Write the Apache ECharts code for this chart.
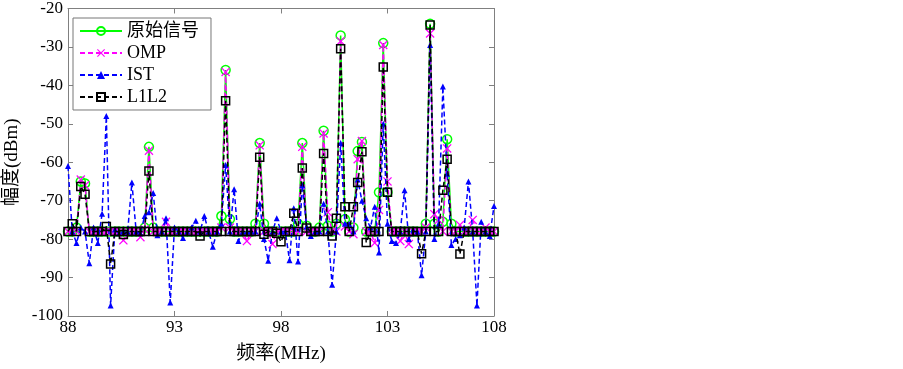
<!DOCTYPE html>
<html>
<head>
<meta charset="utf-8">
<script src="https://cdn.jsdelivr.net/npm/echarts@6/dist/echarts.min.js"></script>
<style>
  html, body { margin: 0; padding: 0; background: #fff; }
  #chart { width: 903px; height: 369px; }
</style>
</head>
<body>
<div id="chart"></div>
<script>
// 频率 (MHz), 步长 0.2
var freq = [88.0,88.2,88.4,88.6,88.8,89.0,89.2,89.4,89.6,89.8,90.0,90.2,90.4,90.6,90.8,91.0,91.2,91.4,91.6,91.8,
  92.0,92.2,92.4,92.6,92.8,93.0,93.2,93.4,93.6,93.8,94.0,94.2,94.4,94.6,94.8,95.0,95.2,95.4,95.6,95.8,
  96.0,96.2,96.4,96.6,96.8,97.0,97.2,97.4,97.6,97.8,98.0,98.2,98.4,98.6,98.8,99.0,99.2,99.4,99.6,99.8,
  100.0,100.2,100.4,100.6,100.8,101.0,101.2,101.4,101.6,101.8,102.0,102.2,102.4,102.6,102.8,103.0,103.2,103.4,103.6,103.8,
  104.0,104.2,104.4,104.6,104.8,105.0,105.2,105.4,105.6,105.8,106.0,106.2,106.4,106.6,106.8,107.0,107.2,107.4,107.6,107.8,108.0]

var xTicks = ['88', '93', '98', '103', '108']
var yMin = -100
var yMax = -20

// 原始信号
var orig = [-78,-78,-77,-65,-65.5,-78,-78,-78,-78,-78,
  -78,-78,-78,-78,-78,-78,-78,-78,-77,-56,
  -77,-78,-78,-78,-78,-78,-78,-78,-78,-78,
  -78,-78,-78,-78,-78,-78,-74,-36,-74.8,-78,
  -78,-78,-78,-78,-76,-55,-76,-78,-78,-78,
  -78,-78,-78,-78,-76,-55,-76.5,-78,-78,-77,
  -51.8,-76.5,-78,-76,-27,-74.8,-78,-77,-57.1,-54.7,
  -78,-78,-78,-67.8,-29,-67.8,-78,-78,-78,-78,
  -78,-78,-78,-78,-76,-24,-76,-78,-75.5,-54,
  -76,-78,-78,-78,-78,-78,-78,-78,-78,-78,-78]

var omp = [-78,-78,-78,-64.5,-66,-78,-78,-78,-78,-78,
  -78,-78,-78,-80.3,-78,-78,-78,-79.5,-77.5,-57,
  -78,-78,-78,-75.5,-78,-78,-78,-78,-78,-78,
  -78,-78,-78,-78,-78,-78,-77,-36.5,-77,-78,
  -78,-78,-80.5,-78,-78,-55.6,-78,-78,-81.3,-78,
  -78,-78,-78,-78,-78,-56,-78,-78,-78,-78,
  -52.5,-73,-78,-78,-28.5,-76.7,-78,-78.7,-59.2,-54.5,
  -78,-78,-81,-72.4,-29.5,-65,-78,-78,-80.5,-78,
  -81.3,-78,-78,-78,-77,-26.5,-73.5,-75,-78,-56.4,
  -78,-78,-76.3,-78,-78,-75,-78,-78,-77,-78,-78]

var ist = [-61,-78,-81,-77,-78,-86.3,-77,-81,-73.4,-48,
  -97.3,-77.5,-78.5,-78,-78,-65.3,-78,-78.5,-74,-73,
  -68,-79,-78,-74.6,-96.5,-77,-78,-79.7,-78,-77,
  -75.2,-78,-74,-78,-82,-78,-76,-60.7,-78,-67,
  -80.5,-78,-78,-78,-78,-70.8,-80,-85.6,-78,-74.6,
  -78,-78,-85.5,-72,-85.8,-66,-76.7,-79.2,-78,-78,
  -70.8,-78,-91.9,-78,-55,-76,-76,-78,-64.5,-70,
  -74.6,-77,-71.6,-83.5,-50,-76,-80.5,-81,-78,-67.3,
  -80,-77.5,-78,-89.4,-78,-29.5,-80,-76,-40.3,-63,
  -81.5,-80,-79,-77,-65,-78,-97.3,-75.5,-78,-79.2,-71.4]

var l1l2 = [-78,-76,-78,-66.3,-68.3,-78,-78,-78,-78,-76.7,
  -86.5,-78,-78,-78.8,-78,-78,-78,-78,-78,-62.3,
  -78,-78,-78,-78,-78,-78,-78,-78,-78,-78,
  -78,-79.2,-78,-78,-78,-78,-78,-44,-78,-78,
  -78,-78,-78,-78,-78,-58.7,-78.7,-78,-78,-78.5,
  -80.7,-78,-78,-73.3,-78,-61.5,-77.1,-78,-78,-78,
  -57.7,-78,-79.2,-74.6,-30.5,-71.6,-78,-71.6,-65.3,-57.3,
  -80.9,-78,-78,-78,-35.2,-67.8,-78,-78,-78,-78,
  -78,-78,-78,-83.8,-78,-24.3,-78,-78,-67.3,-59.2,
  -78,-78,-83.9,-78,-78,-78,-78,-78,-78,-78,-78]

var serif = '"Liberation Serif", "Times New Roman", "Noto Sans CJK SC", serif'
var frameColor = '#808080'
var xMark = 'path://M0,1L1,0L5,4L9,0L10,1L6,5L10,9L9,10L5,6L1,10L0,9L4,5Z'

var chart = echarts.init(document.getElementById('chart'))

function xLabel(v) {
  var s = String(Math.round(Number(v)))
  return xTicks.indexOf(s) >= 0 ? s : ''
}

chart.setOption({
  animation: false,
  backgroundColor: '#fff',
  grid: {
    left: 68,
    right: 409,
    top: 6,
    bottom: 47
  },
  legend: {
    left: 73,
    top: 18,
    orient: 'vertical',
    itemWidth: 42,
    itemHeight: 10,
    itemGap: 4,
    padding: [4, 12, 4, 6],
    borderColor: '#777',
    borderWidth: 1,
    backgroundColor: '#fff',
    textStyle: { fontFamily: serif, fontSize: 18, color: '#000' },
    data: ['原始信号', 'OMP', 'IST', 'L1L2']
  },
  xAxis: [
    {
      type: 'category',
      data: freq,
      boundaryGap: false,
      position: 'bottom',
      name: '频率(MHz)',
      nameLocation: 'middle',
      nameGap: 29,
      nameTextStyle: { fontFamily: serif, fontSize: 19, color: '#000' },
      axisLine: { lineStyle: { color: frameColor } },
      axisTick: { inside: true, interval: 24, length: 5, lineStyle: { color: frameColor } },
      axisLabel: { interval: 24, formatter: xLabel, fontFamily: serif, fontSize: 17, color: '#000', margin: 3 },
      splitLine: { show: false }
    },
    {
      type: 'category',
      data: freq,
      boundaryGap: false,
      position: 'top',
      axisLine: { lineStyle: { color: frameColor } },
      axisTick: { inside: true, interval: 24, length: 5, lineStyle: { color: frameColor } },
      axisLabel: { show: false },
      splitLine: { show: false }
    }
  ],
  yAxis: [
    {
      type: 'value',
      min: yMin,
      max: yMax,
      interval: 10,
      position: 'left',
      name: '幅度(dBm)',
      nameLocation: 'middle',
      nameGap: 46,
      nameRotate: 90,
      nameTextStyle: { fontFamily: serif, fontSize: 19, color: '#000' },
      axisLine: { show: true, lineStyle: { color: frameColor } },
      axisTick: { show: true, inside: true, length: 5, lineStyle: { color: frameColor } },
      axisLabel: { fontFamily: serif, fontSize: 17, color: '#000', margin: 5 },
      splitLine: { show: false }
    },
    {
      type: 'value',
      min: yMin,
      max: yMax,
      interval: 10,
      position: 'right',
      axisLine: { show: true, lineStyle: { color: frameColor } },
      axisTick: { show: true, inside: true, length: 5, lineStyle: { color: frameColor } },
      axisLabel: { show: false },
      splitLine: { show: false }
    }
  ],
  series: [
    {
      name: '原始信号',
      type: 'line',
      data: orig,
      symbol: 'circle',
      symbolSize: 9,
      showAllSymbol: true,
      lineStyle: { color: '#00ff00', width: 1.5 },
      itemStyle: { color: 'rgba(255,255,255,0)', borderColor: '#00ff00', borderWidth: 1.5 },
      z: 2
    },
    {
      name: 'OMP',
      type: 'line',
      data: omp,
      symbol: xMark,
      symbolSize: 9,
      showAllSymbol: true,
      lineStyle: { color: '#ff00ff', width: 1.5, type: [5, 3] },
      itemStyle: { color: '#ff00ff' },
      z: 3
    },
    {
      name: 'IST',
      type: 'line',
      data: ist,
      symbol: 'triangle',
      symbolSize: 6,
      showAllSymbol: true,
      lineStyle: { color: '#0000ff', width: 1.5, type: [5, 3] },
      itemStyle: { color: '#0000ff' },
      z: 4
    },
    {
      name: 'L1L2',
      type: 'line',
      data: l1l2,
      symbol: 'rect',
      symbolSize: 8,
      showAllSymbol: true,
      lineStyle: { color: '#000', width: 1.5, type: [5, 3] },
      itemStyle: { color: 'rgba(255,255,255,0)', borderColor: '#000', borderWidth: 1.5 },
      z: 5
    }
  ]
})
</script>
</body>
</html>
